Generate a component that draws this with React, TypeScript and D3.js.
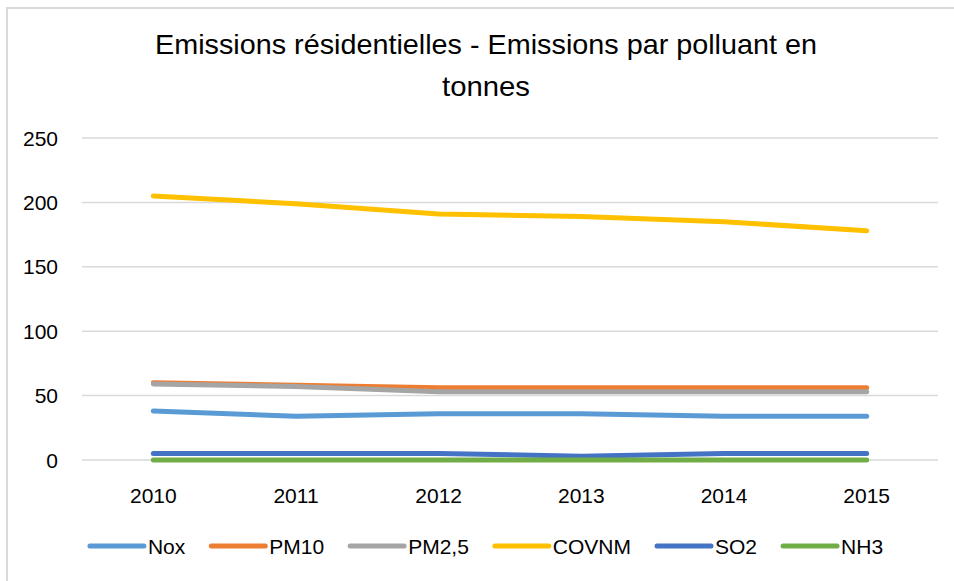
import React, { useEffect, useRef } from "react";
import * as d3 from "d3";

const years = ["2010", "2011", "2012", "2013", "2014", "2015"];
const seriesNames = ["Nox", "PM10", "PM2,5", "COVNM", "SO2", "NH3"];
const nox = [38, 34, 36, 36, 34, 34];
const pm10 = [60, 58, 56, 56, 56, 56];
const pm25 = [59, 57, 53, 53, 53, 53];
const covnm = [205, 199, 191, 189, 185, 178];
const so2 = [5, 5, 5, 3, 5, 5];
const nh3 = [0, 0, 0, 0, 0, 0];
const colors = ["#5b9bd5", "#ed7d31", "#a5a5a5", "#ffc000", "#4472c4", "#70ad47"];
const yTicks = [0, 50, 100, 150, 200, 250];
const titleLines = ["Emissions résidentielles - Emissions par polluant en", "tonnes"];

const W = 954;
const H = 581;
const FONT = "'Liberation Sans', Arial, sans-serif";

export default function App() {
  const ref = useRef<SVGSVGElement>(null);

  useEffect(() => {
    const svg = d3.select(ref.current);
    svg.selectAll("*").remove();

    const values = [nox, pm10, pm25, covnm, so2, nh3];
    const x = d3.scaleBand().domain(years).range([82, 938]);
    const y = d3.scaleLinear().domain([0, 250]).range([460, 138]);

    svg.append("rect").attr("x", 0).attr("y", 0).attr("width", W).attr("height", H).attr("fill", "#fff");
    svg
      .append("rect")
      .attr("x", 7)
      .attr("y", 8)
      .attr("width", W + 20)
      .attr("height", H + 20)
      .attr("fill", "none")
      .attr("stroke", "#d9d9d9")
      .attr("stroke-width", 2);

    // title
    svg
      .append("text")
      .attr("x", 486)
      .attr("y", 54)
      .attr("text-anchor", "middle")
      .attr("font-family", FONT)
      .attr("font-size", 28)
      .attr("fill", "#000")
      .attr("textLength", 662)
      .attr("lengthAdjust", "spacingAndGlyphs")
      .text(titleLines[0]);
    svg
      .append("text")
      .attr("x", 486)
      .attr("y", 96)
      .attr("text-anchor", "middle")
      .attr("font-family", FONT)
      .attr("font-size", 28)
      .attr("fill", "#000")
      .attr("textLength", 88)
      .attr("lengthAdjust", "spacingAndGlyphs")
      .text(titleLines[1]);

    // gridlines
    svg
      .append("g")
      .selectAll("line")
      .data(yTicks)
      .join("line")
      .attr("x1", 82)
      .attr("x2", 938)
      .attr("y1", (d) => y(d))
      .attr("y2", (d) => y(d))
      .attr("stroke", "#d9d9d9")
      .attr("stroke-width", 1.5);

    // y labels
    svg
      .append("g")
      .selectAll("text")
      .data(yTicks)
      .join("text")
      .attr("x", 58)
      .attr("y", (d) => y(d))
      .attr("dy", "0.36em")
      .attr("text-anchor", "end")
      .attr("font-family", FONT)
      .attr("font-size", 21)
      .attr("fill", "#000")
      .text((d) => String(d));

    // x labels
    svg
      .append("g")
      .selectAll("text")
      .data(years)
      .join("text")
      .attr("x", (d) => (x(d) as number) + x.bandwidth() / 2)
      .attr("y", 503)
      .attr("text-anchor", "middle")
      .attr("font-family", FONT)
      .attr("font-size", 21)
      .attr("fill", "#000")
      .text((d) => d);

    // lines
    const line = d3
      .line<number>()
      .x((_, i) => (x(years[i]) as number) + x.bandwidth() / 2)
      .y((d) => y(d));
    values.forEach((vals, i) => {
      svg
        .append("path")
        .attr("d", line(vals))
        .attr("fill", "none")
        .attr("stroke", colors[i])
        .attr("stroke-width", 5)
        .attr("stroke-linecap", "round")
        .attr("stroke-linejoin", "round");
    });

    // legend
    const lg = svg.append("g");
    const items = seriesNames.map((name, i) => {
      const g = lg.append("g");
      g.append("line")
        .attr("x1", 0)
        .attr("x2", 54)
        .attr("y1", 0)
        .attr("y2", 0)
        .attr("stroke", colors[i])
        .attr("stroke-width", 5)
        .attr("stroke-linecap", "round");
      const t = g
        .append("text")
        .attr("x", 58)
        .attr("y", 0)
        .attr("dy", "0.36em")
        .attr("font-family", FONT)
        .attr("font-size", 21)
        .attr("fill", "#000")
        .text(name);
      const tw = (t.node() as SVGTextElement).getComputedTextLength();
      return { g, w: 58 + tw };
    });
    const gap = 26;
    const total = d3.sum(items, (d) => d.w) + gap * (items.length - 1);
    let cx = 486.5 - total / 2;
    items.forEach((it) => {
      it.g.attr("transform", `translate(${cx},546)`);
      cx += it.w + gap;
    });
  }, []);

  return (
    <svg
      ref={ref}
      width={W}
      height={H}
      style={{ position: "absolute", left: 0, top: 0, display: "block" }}
    />
  );
}
